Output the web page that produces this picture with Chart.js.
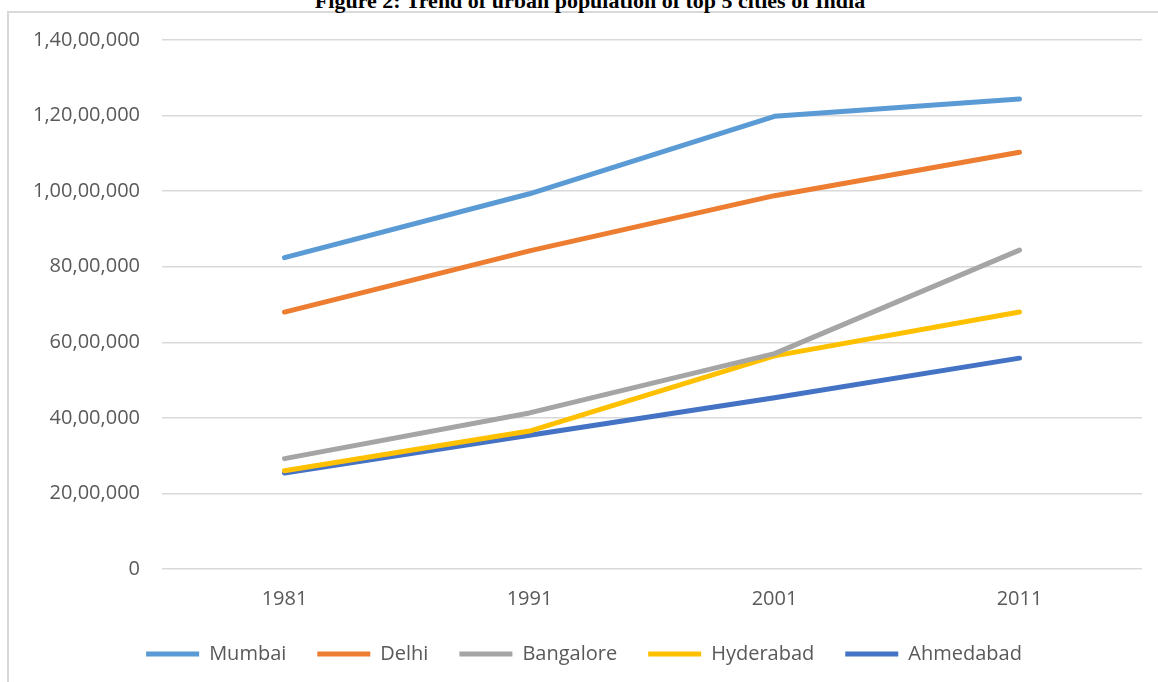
<!DOCTYPE html>
<html>
<head>
<meta charset="utf-8">
<script src="https://cdn.jsdelivr.net/npm/chart.js@4"></script>
<style>
  html, body { margin: 0; padding: 0; background: #fff; overflow: hidden; }
  #frame {
    position: absolute; left: 7px; top: 11px; width: 1170px; height: 700px;
    border: 2px solid #d9d9d9; box-sizing: border-box;
  }
  #title {
    position: absolute; left: 11px; top: -10px; width: 1158px;
    text-align: center; font: bold 22px/22px "Liberation Serif", "Times New Roman", serif;
    color: #000;
  }
  #wrap { position: absolute; left: 0; top: 0; width: 1158px; height: 682px; }
</style>
</head>
<body>
<div id="frame"></div>
<div id="title">Figure 2: Trend of urban population of top 5 cities of India</div>
<div id="wrap"><canvas id="popChart"></canvas></div>
<script>
// census years and city populations
var years = ["1981", "1991", "2001", "2011"];
var cities = ["Mumbai", "Delhi", "Bangalore", "Hyderabad", "Ahmedabad"];
var colors = ["#5B9BD5", "#ED7D31", "#A5A5A5", "#FFC000", "#4472C4"];

var mumbai    = [8240000, 9930000, 11980000, 12440000];
var delhi     = [6800000, 8420000, 9880000, 11030000];
var bangalore = [2920000, 4130000, 5700000, 8440000];
var hyderabad = [2600000, 3650000, 5640000, 6800000];
var ahmedabad = [2540000, 3540000, 4530000, 5580000];

var yMin = 0, yMax = 14000000, yStep = 2000000;

// indian digit grouping: 1,40,00,000
function inr(v) {
    var s = String(Math.round(v));
    if (s.length <= 3) return s;
    var last3 = s.slice(-3);
    var rest = s.slice(0, -3).replace(/\B(?=(\d{2})+(?!\d))/g, ",");
    return rest + "," + last3;
}

var series = [mumbai, delhi, bangalore, hyderabad, ahmedabad];

var dataPop = {
    labels: years,
    datasets: series.map(function (vals, i) {
        return {
            label: cities[i],
            data: vals,
            borderColor: colors[i],
            backgroundColor: colors[i],
            borderWidth: 5,
            borderCapStyle: 'round',
            borderJoinStyle: 'round',
            pointRadius: 0,
            pointHoverRadius: 0,
            fill: false,
            tension: 0
        };
    })
};

var textColor = "#595959";
var tickFont = { family: "'Open Sans', sans-serif", size: 20 };

var optPop = {
    responsive: true,
    maintainAspectRatio: false,
    animation: false,
    layout: { padding: { left: 26, right: 16, top: 40, bottom: 8 } },
    plugins: {
        title: { display: false },
        tooltip: { enabled: false },
        legend: {
            position: 'bottom',
            labels: {
                usePointStyle: true,
                pointStyle: 'line',
                pointStyleWidth: 53,
                padding: 31,
                color: textColor,
                font: tickFont
            }
        }
    },
    scales: {
        x: {
            offset: true,
            afterFit: function (scale) { scale.height = 44; },
            grid: { display: false, drawTicks: false },
            border: { display: false },
            ticks: { color: textColor, font: tickFont, padding: 18 }
        },
        y: {
            min: yMin,
            max: yMax,
            afterFit: function (scale) { scale.width = 136; },
            grid: { color: "#d9d9d9", lineWidth: 1.5, drawTicks: false },
            border: { display: false },
            ticks: {
                stepSize: yStep,
                color: textColor,
                font: tickFont,
                padding: 22,
                callback: function (v) { return inr(v); }
            }
        }
    }
};

(function () {
    var ctx = document.getElementById("popChart").getContext("2d");
    new Chart(ctx, { type: 'line', data: dataPop, options: optPop });
})();
</script>
</body>
</html>
